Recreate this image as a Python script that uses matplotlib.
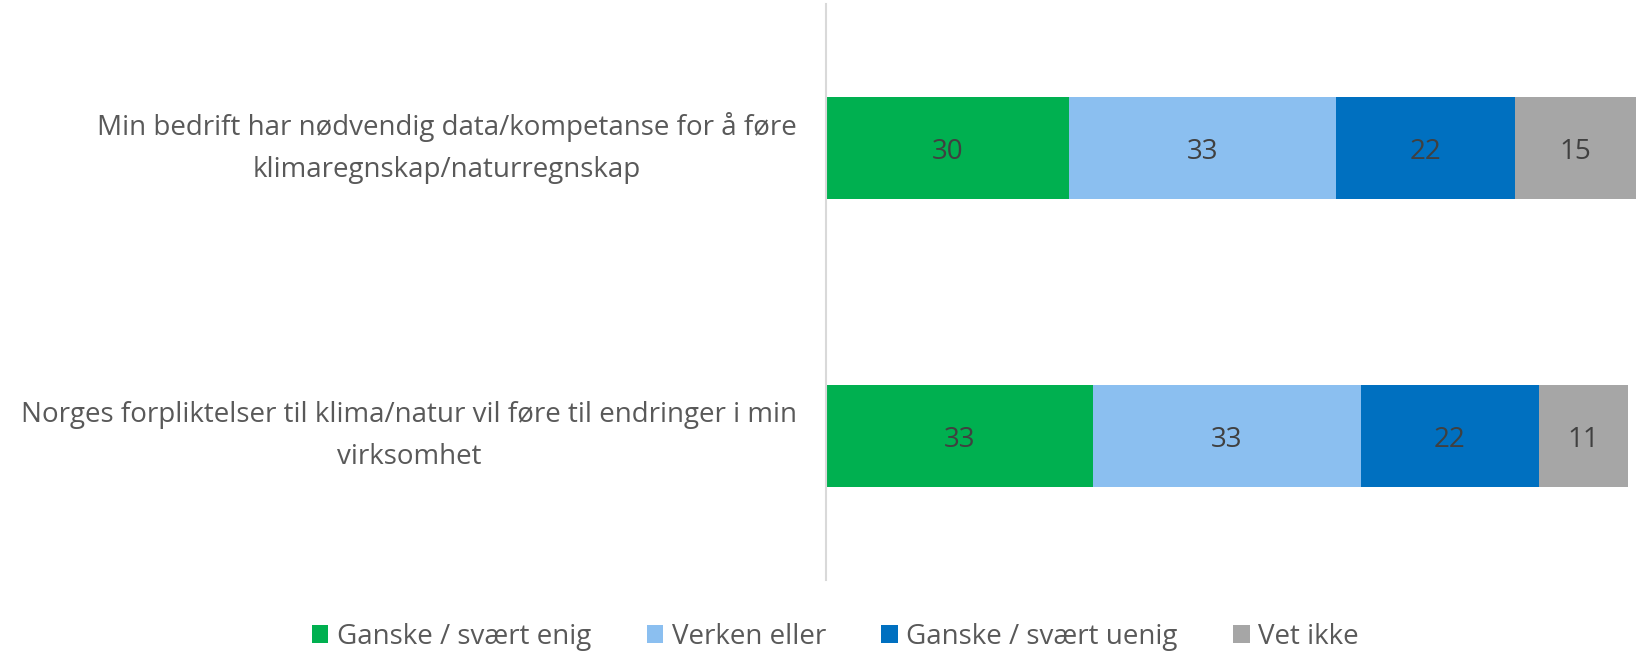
import matplotlib.pyplot as plt
import numpy as np

plt.rcParams['font.family'] = ['Open Sans', 'DejaVu Sans']

questions = ['Min bedrift har nødvendig data/kompetanse for å føre\nklimaregnskap/naturregnskap',
             'Norges forpliktelser til klima/natur vil føre til endringer i min\nvirksomhet']
series = ['Ganske / svært enig', 'Verken eller', 'Ganske / svært uenig', 'Vet ikke']
enig = [30, 33]
verken = [33, 33]
uenig = [22, 22]
vet_ikke = [15, 11]
colors = ['#00B050', '#8BBFF0', '#0070C0', '#A6A6A6']

values = [enig, verken, uenig, vet_ikke]

fig = plt.figure(figsize=(16.38, 6.54), dpi=100)
ax = fig.add_axes([826 / 1638, 1 - 580 / 654, 810 / 1638, 576 / 654])

y = np.arange(len(questions))
left = np.zeros(len(questions))
for name, vals, c in zip(series, values, colors):
    vals = np.array(vals)
    ax.barh(y, vals, left=left, height=0.355, color=c, label=name)
    for yi, l, v in zip(y, left, vals):
        ax.annotate(str(v), (l + v / 2, yi), xytext=(0, -3), textcoords='offset points',
                    ha='center', va='center', fontsize=20, color='#404040')
    left += vals

ax.set_xlim(0, 100)
ax.set_ylim(1.5, -0.5)
ax.set_yticks(y)
ax.set_yticklabels(questions, fontsize=20, color='#595959', ha='right', va='center',
                   multialignment='center', linespacing=1.67)
ax.tick_params(axis='y', length=0, pad=21)
ax.set_xticks([])
for s in ['top', 'right', 'bottom']:
    ax.spines[s].set_visible(False)
ax.spines['left'].set_color('#D9D9D9')
ax.spines['left'].set_linewidth(1.5)

fig.legend(loc='center', bbox_to_anchor=(0.51, 1 - 637 / 654), ncol=4, frameon=False,
           fontsize=20, handlelength=0.6, handleheight=0.6, handletextpad=0.3,
           columnspacing=2.0, labelcolor='#595959')

fig.savefig('out.png', dpi=100)
